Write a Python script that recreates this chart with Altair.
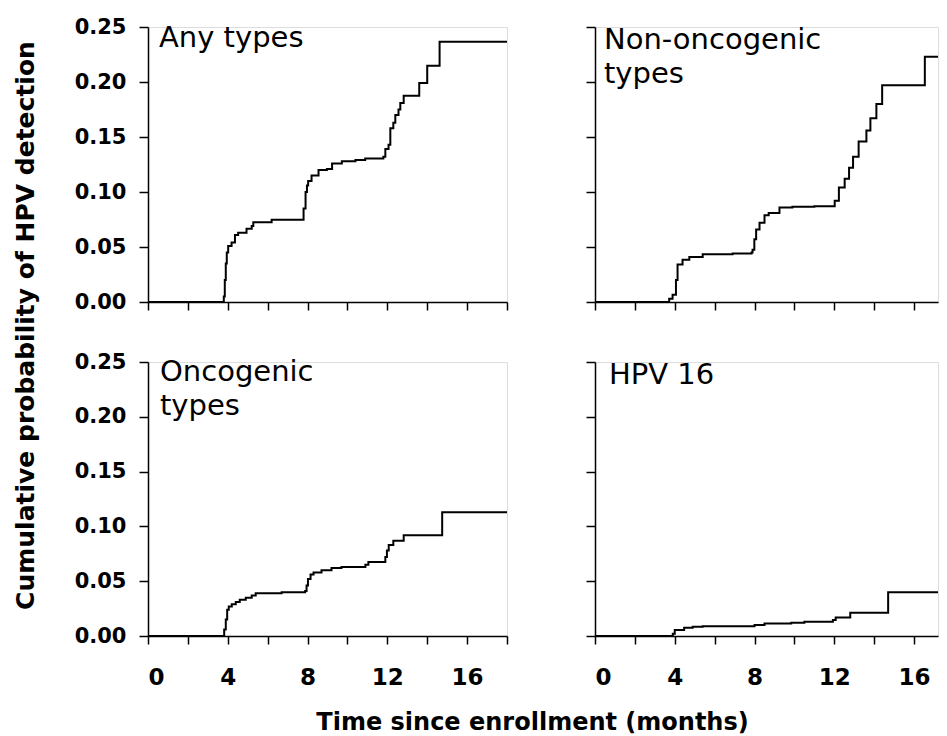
import altair as alt
import pandas as pd

# ---- data (step curves, value holds from each time onward) ----
any_t = [0, 3.8, 3.85, 3.9, 3.95, 4.02, 4.19, 4.36, 4.52, 4.94, 5.2, 5.28, 6.2, 7.8, 7.9, 7.97, 8.03, 8.2, 8.55, 8.97,
         9.23, 9.72, 10.4, 10.89, 11.8, 11.9, 12.06, 12.15, 12.3, 12.4, 12.56, 12.65, 12.82, 13.6, 14.0, 14.62, 18]
any_p = [0, 0.005, 0.02, 0.035, 0.045, 0.051, 0.054, 0.061, 0.063, 0.0667, 0.069, 0.0724, 0.0748, 0.085, 0.1, 0.106,
         0.11, 0.115, 0.12, 0.121, 0.126, 0.128, 0.129, 0.1305, 0.132, 0.139, 0.143, 0.158, 0.163, 0.17, 0.175, 0.181,
         0.1876, 0.199, 0.2148, 0.2367, 0.2367]

non_t = [0, 3.72, 3.89, 4.06, 4.14, 4.39, 4.73, 5.4, 6.9, 7.85, 7.9, 7.99, 8.08, 8.25, 8.5, 8.71, 9.25, 9.9, 11.0,
         12.02, 12.23, 12.52, 12.74, 12.94, 13.22, 13.61, 13.81, 14.11, 14.4, 16.54, 18]
non_p = [0, 0.003, 0.0066, 0.02, 0.034, 0.0385, 0.041, 0.0433, 0.044, 0.045, 0.0475, 0.057, 0.066, 0.072, 0.0789,
         0.081, 0.086, 0.0867, 0.087, 0.092, 0.104, 0.112, 0.122, 0.132, 0.146, 0.156, 0.167, 0.18, 0.197, 0.223, 0.223]

onc_t = [0, 3.82, 3.9, 3.97, 4.05, 4.2, 4.4, 4.6, 4.9, 5.2, 5.4, 6.7, 7.88, 7.95, 8.02, 8.15, 8.3, 8.7, 9.2, 9.7,
         10.9, 11.05, 11.9, 11.98, 12.07, 12.3, 12.82, 14.75, 18]
onc_p = [0, 0.006, 0.015, 0.024, 0.027, 0.029, 0.031, 0.033, 0.035, 0.037, 0.039, 0.040, 0.041, 0.046, 0.052, 0.056,
         0.058, 0.060, 0.062, 0.063, 0.065, 0.0675, 0.072, 0.078, 0.083, 0.087, 0.092, 0.113, 0.113]

h16_t = [0, 3.9, 4.0, 4.47, 4.9, 5.4, 8.0, 8.5, 9.84, 10.5, 11.93, 12.07, 12.8, 14.7, 18]
h16_p = [0, 0.002, 0.0055, 0.0076, 0.0085, 0.009, 0.010, 0.0113, 0.0122, 0.0131, 0.0146, 0.0168, 0.0213, 0.040, 0.040]

panel_labels = ["Any types", "Non-oncogenic\ntypes", "Oncogenic\ntypes", "HPV 16"]
y_ticks = [0, 0.05, 0.10, 0.15, 0.20, 0.25]
x_ticks = [0, 2, 4, 6, 8, 10, 12, 14, 16, 18]

FONT = "DejaVu Sans"


def panel(t, p, label, xmax, width, height, show_ylabels, show_xlabels, lx, ly,
          ytitle=None, xtitle=None):
    df = pd.DataFrame({"t": t, "p": p})
    xa = dict(values=[v for v in x_ticks if v <= xmax], tickSize=8, tickWidth=1.5, domainWidth=1.5,
              domainColor="black", tickColor="black", grid=False, labels=show_xlabels,
              labelFont=FONT, labelFontSize=23, labelFontWeight="bold", labelColor="black",
              labelPadding=22, labelExpr="datum.value % 4 === 0 ? datum.label : ''", title=None)
    if xtitle:
        xa.update(title=xtitle, titleX=384, titleY=93, titleBaseline="alphabetic", titleAlign="center",
                  titleAngle=0, titleFont=FONT, titleFontSize=24, titleFontWeight="bold", titleColor="black")
    ya = dict(values=y_ticks, format=".2f", tickSize=9, tickWidth=1.5, domainWidth=1.5,
              domainColor="black", tickColor="black", grid=False, labels=show_ylabels,
              labelFont=FONT, labelFontSize=21, labelFontWeight="bold", labelColor="black",
              labelPadding=13, title=None)
    if ytitle:
        ya.update(title=ytitle, titleX=-115, titleY=298, titleAngle=270, titleAlign="center",
                  titleBaseline="alphabetic", titleFont=FONT, titleFontSize=25, titleFontWeight="bold",
                  titleColor="black")
    line = alt.Chart(df).mark_line(interpolate="step-after", color="black", strokeWidth=2, clip=True).encode(
        x=alt.X("t:Q", scale=alt.Scale(domain=[0, xmax], nice=False, zero=False), axis=alt.Axis(**xa)),
        y=alt.Y("p:Q", scale=alt.Scale(domain=[0, 0.25], nice=False), axis=alt.Axis(**ya)),
    )
    txt = alt.Chart(pd.DataFrame({"label": [label]})).mark_text(
        align="left", baseline="alphabetic", font=FONT, fontSize=29, color="black",
        lineBreak="\n", lineHeight=34
    ).encode(text="label:N", x=alt.value(lx), y=alt.value(ly))
    return alt.layer(line, txt).properties(width=width, height=height)


tl = panel(any_t, any_p, panel_labels[0], 18, 359, 275, True, False, 11, 20,
           ytitle="Cumulative probability of HPV detection")
tr = panel(non_t, non_p, panel_labels[1], 17.2, 343, 275, False, False, 9, 21.5)
bl = panel(onc_t, onc_p, panel_labels[2], 18, 359, 274, True, True, 12, 19,
           xtitle="Time since enrollment (months)")
br = panel(h16_t, h16_p, panel_labels[3], 17.2, 343, 274, False, True, 14, 22)

chart = alt.concat(tl, tr, bl, br, columns=2, spacing={"row": 60, "column": 88}, bounds="flush").properties(
    padding={"left": 4, "top": 7, "right": 0, "bottom": 0}
).configure_view(stroke=None).configure(background="white")

chart.save("out.html", embed_options={"renderer": "svg", "actions": False})
